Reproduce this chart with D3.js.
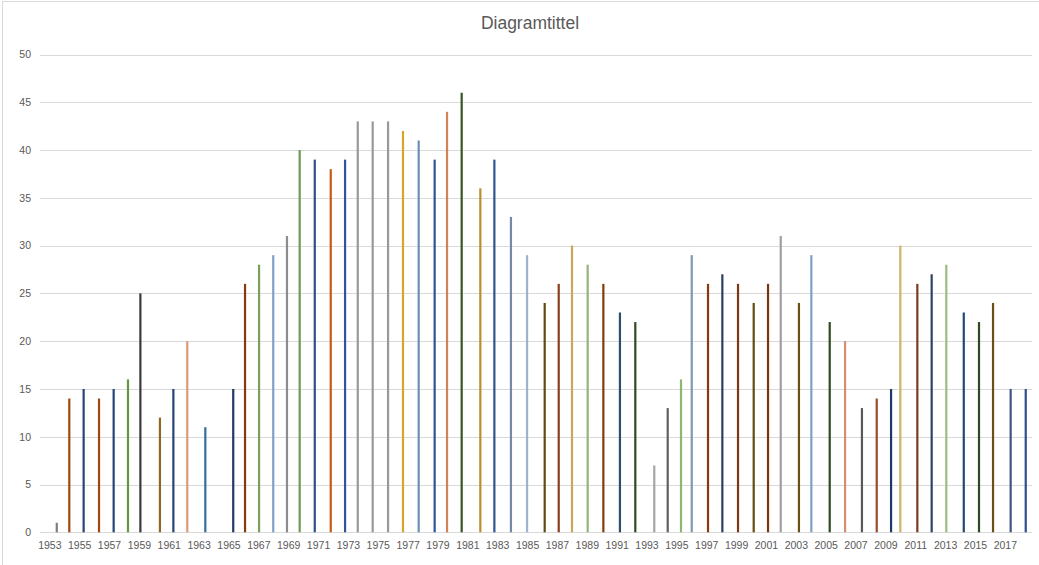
<!DOCTYPE html>
<html>
<head>
<meta charset="utf-8">
<script src="https://cdn.jsdelivr.net/npm/d3@7"></script>
<style>
  html, body { margin: 0; padding: 0; background: #fff; }
  svg { display: block; }
  text { font-family: "Liberation Sans", Arial, sans-serif; }
</style>
</head>
<body>
<svg id="chart" width="1039" height="565"></svg>
<script>
const dates = [
  1953.50, 1954.34, 1955.30, 1956.33, 1957.31, 1958.27, 1959.10, 1960.41, 1961.31, 1962.24,
  1963.45, 1965.32, 1966.11, 1967.05, 1968.00, 1968.92, 1969.77, 1970.78, 1971.85, 1972.81,
  1973.66, 1974.66, 1975.69, 1976.69, 1977.74, 1978.81, 1979.64, 1980.62, 1981.87, 1982.81,
  1983.92, 1985.00, 1986.18, 1987.12, 1988.01, 1989.06, 1990.11, 1991.22, 1992.25, 1993.52,
  1994.42, 1995.31, 1996.03, 1997.12, 1998.08, 1999.13, 2000.18, 2001.14, 2001.99, 2003.21,
  2004.04, 2005.27, 2006.30, 2007.43, 2008.42, 2009.38, 2010.00, 2011.14, 2012.10, 2013.08,
  2014.25, 2015.27, 2016.21, 2017.39, 2018.40
];
const values = [
  1, 14, 15, 14, 15, 16, 25, 12, 15, 20,
  11, 15, 26, 28, 29, 31, 40, 39, 38, 39,
  43, 43, 43, 42, 41, 39, 44, 46, 36, 39,
  33, 29, 24, 26, 30, 28, 26, 23, 22, 7,
  13, 16, 29, 26, 27, 26, 24, 26, 31, 24,
  29, 22, 20, 13, 14, 15, 30, 26, 27, 28,
  23, 22, 24, 15, 15
];
const pointColors = [
  "#7f7f7f", "#9e480e", "#264478", "#9e480e", "#264478", "#63963f", "#3a3a3a", "#8b6a1e", "#264478", "#d89a78",
  "#336f9c", "#203864", "#843c0c", "#7ba05b", "#7da0c8", "#8c8c8c", "#6d9b52", "#2f4e8c", "#c55a11", "#2f5597",
  "#999999", "#999999", "#999999", "#d4a62a", "#6d8fb5", "#2f5597", "#d0825a", "#375623", "#b8902f", "#2f5597",
  "#7688a8", "#9db3d0", "#5f4a14", "#8a3f1e", "#c9a75b", "#93b47a", "#843c0c", "#2c4e6e", "#2f4a21", "#a6a6a6",
  "#606060", "#8fb573", "#7e98b5", "#843c0c", "#2d3e60", "#7b3a16", "#654d12", "#7e3310", "#a0a0a0", "#6a5016",
  "#7fa0c3", "#2f4a21", "#d4906e", "#595959", "#9a4a2a", "#203864", "#d2b26b", "#7b3a20", "#2c4368", "#9bbd83",
  "#234a6e", "#2f4a21", "#6a5016", "#3d5586", "#2f4e8c"
];
const yTicks = [0, 5, 10, 15, 20, 25, 30, 35, 40, 45, 50];
const xTickYears = d3.range(1953, 2018, 2);
const title = "Diagramtittel";

const svg = d3.select("#chart");
const W = 1039, H = 565;

// chart border
svg.append("rect").attr("x", 2.5).attr("y", 1.5).attr("width", W - 2).attr("height", H + 5)
  .attr("fill", "#fff").attr("stroke", "#d9d9d9").attr("stroke-width", 1);

const x = d3.scaleLinear().domain([1952.377, 2018.82]).range([40, 1032]);
const y = d3.scaleLinear().domain([0, 50]).range([532.3, 54.5]);

// gridlines
svg.append("g").selectAll("line").data(yTicks).join("line")
  .attr("x1", 40).attr("x2", 1032)
  .attr("y1", d => Math.round(y(d)) + 0.5).attr("y2", d => Math.round(y(d)) + 0.5)
  .attr("stroke", "#d9d9d9").attr("stroke-width", 1);

// y axis labels
const yAxis = d3.axisLeft(y).tickValues(yTicks).tickSize(0).tickPadding(0);
const gy = svg.append("g").attr("transform", "translate(31,0)").call(yAxis);
gy.select(".domain").remove();
gy.selectAll("text").attr("fill", "#595959").style("font-size", "10.5px")
  .style("font-family", "'Liberation Sans', Arial, sans-serif");

// x axis labels
const xAxis = d3.axisBottom(x).tickValues(xTickYears).tickSize(0).tickPadding(0).tickFormat(d3.format("d"));
const gx = svg.append("g").attr("transform", "translate(0,542)").call(xAxis);
gx.select(".domain").remove();
gx.selectAll("text").attr("fill", "#595959").style("font-size", "10.5px")
  .style("font-family", "'Liberation Sans', Arial, sans-serif");

// bars
const data = dates.map((d, i) => ({ d, v: values[i], c: pointColors[i] }));
const bw = 2.2;
svg.append("g").selectAll("rect").data(data).join("rect")
  .attr("x", p => x(p.d) - bw / 2)
  .attr("width", bw)
  .attr("y", p => y(p.v))
  .attr("height", p => y(0) - y(p.v))
  .attr("fill", p => p.c);

// title
svg.append("text").attr("x", 530).attr("y", 29).attr("text-anchor", "middle")
  .attr("fill", "#595959").style("font-size", "17.5px")
  .style("font-family", "'Liberation Sans', Arial, sans-serif")
  .text(title);
</script>
</body>
</html>
